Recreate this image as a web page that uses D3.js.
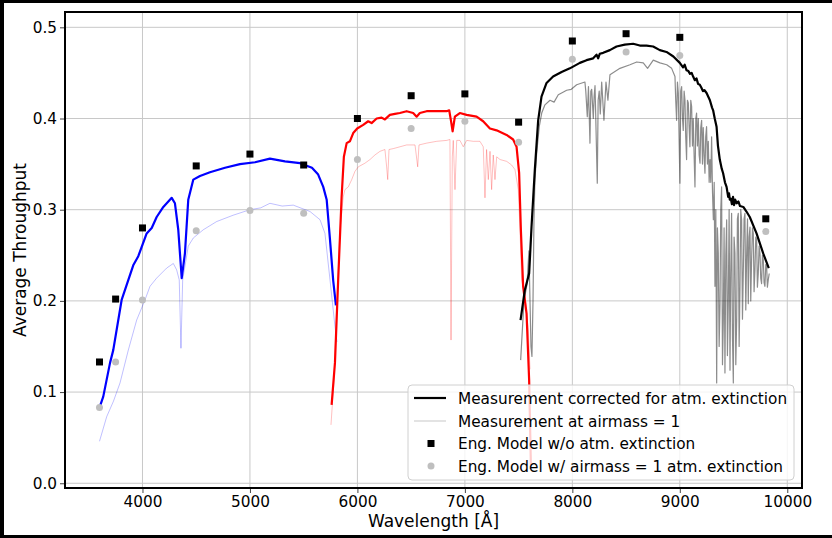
<!DOCTYPE html>
<html>
<head>
<meta charset="utf-8">
<script src="https://cdn.jsdelivr.net/npm/d3@7"></script>
<style>
  body { margin: 0; background: #000; }
  svg { display: block; }
  text { font-family: "DejaVu Sans", sans-serif; fill: #000; }
</style>
</head>
<body>
<div id="chart"></div>
<script>
// wavelength [A], average throughput
var blueCorr = [[3600,0.083],[3635,0.095],[3698,0.132],[3728,0.146],[3806,0.201],[3914,0.239],[3961,0.249],
  [4039,0.274],[4086,0.280],[4132,0.292],[4194,0.303],[4272,0.313],[4302,0.307],[4333,0.278],[4365,0.225],
  [4395,0.252],[4426,0.311],[4473,0.333],[4535,0.337],[4628,0.341],[4768,0.346],[4907,0.350],[5047,0.352],
  [5186,0.356],[5326,0.353],[5466,0.351],[5577,0.346],[5633,0.339],[5682,0.325],[5714,0.311],[5745,0.267],
  [5775,0.222],[5800,0.195]];
var blueAir = [[3600,0.046],[3667,0.073],[3730,0.090],[3791,0.110],[3868,0.146],[3946,0.179],[4023,0.201],
  [4070,0.216],[4132,0.225],[4225,0.236],[4287,0.241],[4318,0.234],[4342,0.223],[4358,0.148],[4374,0.223],
  [4426,0.260],[4473,0.269],[4566,0.278],[4690,0.287],[4845,0.294],[5000,0.300],[5100,0.302],[5186,0.307],
  [5300,0.304],[5403,0.305],[5559,0.298],[5652,0.289],[5698,0.274],[5745,0.223],[5791,0.172],[5810,0.155]];
var redCorr = [[5760,0.086],[5791,0.132],[5821,0.223],[5853,0.314],[5874,0.358],[5900,0.373],[5930,0.375],
  [5961,0.384],[5998,0.389],[6054,0.393],[6100,0.397],[6132,0.395],[6179,0.400],[6225,0.401],[6256,0.399],
  [6302,0.404],[6349,0.405],[6395,0.406],[6458,0.408],[6519,0.406],[6551,0.402],[6581,0.406],[6644,0.408],
  [6737,0.408],[6830,0.408],[6854,0.409],[6870,0.398],[6886,0.386],[6907,0.402],[6953,0.406],[7016,0.404],
  [7109,0.402],[7170,0.397],[7233,0.389],[7295,0.387],[7388,0.382],[7449,0.377],[7481,0.369],[7505,0.340],
  [7521,0.278],[7542,0.216],[7574,0.186],[7598,0.113],[7614,0.020]];
var redAir = [[5754,0.064],[5782,0.113],[5810,0.201],[5838,0.278],[5868,0.314],[5884,0.322],[5915,0.325],
  [5947,0.333],[5977,0.342],[6008,0.347],[6070,0.351],[6117,0.355],[6163,0.360],[6210,0.364],[6256,0.366],
  [6272,0.347],[6282,0.333],[6294,0.366],[6334,0.367],[6396,0.369],[6458,0.371],[6536,0.371],[6561,0.347],
  [6573,0.371],[6644,0.373],[6738,0.375],[6831,0.376],[6861,0.377],[6871,0.157],[6883,0.358],[6892,0.376],
  [6908,0.322],[6924,0.376],[6954,0.376],[6985,0.369],[7017,0.376],[7078,0.375],[7140,0.375],[7171,0.369],
  [7187,0.313],[7202,0.366],[7218,0.333],[7234,0.364],[7249,0.322],[7264,0.360],[7280,0.333],[7296,0.358],
  [7327,0.355],[7389,0.353],[7435,0.349],[7466,0.344],[7497,0.322],[7513,0.278],[7528,0.223],[7559,0.205],
  [7590,0.168],[7606,0.125]];
var blackCorr = [[7518,0.179],[7558,0.212],[7598,0.230],[7620,0.281],[7651,0.344],[7682,0.398],[7713,0.424],
  [7760,0.439],[7821,0.446],[7900,0.451],[7977,0.455],[8070,0.461],[8132,0.464],[8194,0.466],[8225,0.470],
  [8240,0.466],[8255,0.471],[8287,0.472],[8349,0.475],[8411,0.479],[8488,0.481],[8566,0.482],[8628,0.480],
  [8690,0.480],[8752,0.479],[8814,0.475],[8876,0.473],[8940,0.468],[9000,0.461],[9030,0.456],[9045,0.459],
  [9062,0.453],[9080,0.452],[9095,0.449],[9110,0.450],[9124,0.446],[9140,0.442],[9155,0.444],[9170,0.438],
  [9186,0.437],[9200,0.434],[9215,0.430],[9230,0.431],[9249,0.428],[9280,0.420],[9300,0.412],[9310,0.409],
  [9325,0.400],[9342,0.391],[9355,0.370],[9372,0.355],[9390,0.345],[9403,0.340],[9420,0.330],[9435,0.325],
  [9450,0.314],[9458,0.318],[9465,0.311],[9475,0.312],[9485,0.306],[9495,0.314],[9505,0.305],[9515,0.311],
  [9530,0.307],[9545,0.309],[9560,0.304],[9591,0.303],[9620,0.298],[9651,0.292],[9714,0.274],[9776,0.252],
  [9828,0.236]];
var blackAir = [[7519,0.135],[7550,0.200],[7578,0.218],[7596,0.255],[7606,0.200],[7615,0.150],[7624,0.139],
  [7634,0.200],[7643,0.290],[7652,0.333],[7668,0.362],[7692,0.391],[7715,0.406],[7745,0.415],[7792,0.420],
  [7830,0.418],[7869,0.426],[7900,0.428],[7947,0.431],[7990,0.432],[8040,0.437],[8117,0.440],[8125,0.430],
  [8139,0.402],[8150,0.435],[8164,0.373],[8172,0.430],[8180,0.432],[8195,0.400],[8203,0.425],[8211,0.436],
  [8232,0.329],[8240,0.420],[8250,0.430],[8260,0.405],[8273,0.440],[8294,0.398],[8313,0.440],[8331,0.420],
  [8350,0.448],[8443,0.455],[8536,0.459],[8599,0.462],[8660,0.461],[8700,0.455],[8753,0.464],[8815,0.461],
  [8878,0.459],[8924,0.455],[8955,0.446],[8962,0.420],[8970,0.398],[8978,0.440],[8986,0.428],[8993,0.380],
  [9001,0.329],[9009,0.430],[9017,0.435],[9025,0.400],[9032,0.387],[9040,0.430],[9048,0.420],[9055,0.380],
  [9063,0.355],[9071,0.420],[9079,0.417],[9087,0.390],[9094,0.369],[9102,0.420],[9110,0.413],[9118,0.370],
  [9125,0.400],[9133,0.360],[9141,0.325],[9149,0.400],[9156,0.406],[9164,0.370],[9172,0.400],[9180,0.360],
  [9188,0.351],[9195,0.390],[9203,0.398],[9211,0.350],[9218,0.390],[9226,0.360],[9234,0.340],[9241,0.380],
  [9249,0.391],[9257,0.350],[9265,0.375],[9273,0.330],[9281,0.355],[9288,0.330],[9296,0.380],[9304,0.320],
  [9312,0.289],[9320,0.330],[9327,0.216],[9335,0.300],[9343,0.110],[9350,0.280],[9358,0.252],[9366,0.150],
  [9374,0.197],[9381,0.300],[9389,0.325],[9397,0.130],[9405,0.179],[9412,0.280],[9420,0.121],[9428,0.250],
  [9436,0.289],[9443,0.140],[9451,0.197],[9459,0.300],[9467,0.124],[9474,0.230],[9482,0.296],[9490,0.160],
  [9498,0.110],[9505,0.270],[9513,0.252],[9521,0.130],[9529,0.179],[9536,0.290],[9544,0.296],[9552,0.150],
  [9560,0.216],[9567,0.300],[9575,0.289],[9583,0.180],[9591,0.234],[9598,0.290],[9606,0.296],[9614,0.190],
  [9622,0.252],[9630,0.290],[9637,0.197],[9645,0.270],[9653,0.281],[9660,0.200],[9668,0.245],[9676,0.280],
  [9684,0.274],[9691,0.210],[9699,0.234],[9707,0.270],[9715,0.267],[9722,0.215],[9730,0.230],[9738,0.260],
  [9746,0.252],[9753,0.225],[9761,0.219],[9769,0.250],[9777,0.245],[9784,0.220],[9792,0.216],[9800,0.240],
  [9808,0.238],[9815,0.215],[9823,0.223],[9832,0.230]];

var modelWave = [3600,3750,4000,4500,5000,5500,6000,6500,7000,7500,8000,8500,9000,9800];
var modelNoExt = [0.133,0.202,0.280,0.348,0.361,0.349,0.400,0.425,0.427,0.396,0.485,0.493,0.489,0.290];
var modelAir = [0.083,0.133,0.201,0.277,0.299,0.296,0.355,0.389,0.397,0.374,0.465,0.473,0.469,0.276];

var xTicks = [4000,5000,6000,7000,8000,9000,10000];
var yTicks = [0.0,0.1,0.2,0.3,0.4,0.5];
var legendLabels = ["Measurement corrected for atm. extinction", "Measurement at airmass = 1",
  "Eng. Model w/o atm. extinction", "Eng. Model w/ airmass = 1 atm. extinction"];

var W = 832, H = 538;
var margin = { top: 12, right: 30, bottom: 50, left: 65 };
var largura = W - margin.left - margin.right;
var altura = H - margin.top - margin.bottom;

var svg = d3.select("#chart").append("svg")
  .attr("width", W)
  .attr("height", H);

svg.append("rect").attr("width", W).attr("height", H).attr("fill", "#000");
svg.append("rect").attr("x", 4).attr("y", 3).attr("width", W - 4).attr("height", H - 6).attr("fill", "#fff");

var xScale = d3.scaleLinear().domain([3279, 10137]).range([0, largura]);
var yScale = d3.scaleLinear().domain([-0.0052, 0.5168]).range([altura, 0]);

var g = svg.append("g").attr("transform", "translate(" + margin.left + "," + margin.top + ")");

svg.append("defs").append("clipPath").attr("id", "clip")
  .append("rect").attr("width", largura).attr("height", altura);

// grid
g.append("g").selectAll("line").data(xTicks).join("line")
  .attr("x1", d => xScale(d)).attr("x2", d => xScale(d))
  .attr("y1", 0).attr("y2", altura)
  .attr("stroke", "#c8c8c8").attr("stroke-width", 1);
g.append("g").selectAll("line").data(yTicks).join("line")
  .attr("x1", 0).attr("x2", largura)
  .attr("y1", d => yScale(d)).attr("y2", d => yScale(d))
  .attr("stroke", "#c8c8c8").attr("stroke-width", 1);

var line = d3.line().x(d => xScale(d[0])).y(d => yScale(d[1]));
var plot = g.append("g").attr("clip-path", "url(#clip)");

function drawLine(data, color, width) {
  plot.append("path").datum(data)
    .attr("fill", "none")
    .attr("stroke", color)
    .attr("stroke-width", width)
    .attr("stroke-linejoin", "round")
    .attr("d", line);
}

drawLine(blueAir, "rgba(0,0,255,0.25)", 1);
drawLine(redAir, "rgba(255,0,0,0.25)", 1);
drawLine(blackAir, "rgba(0,0,0,0.45)", 1.2);
drawLine(blueCorr, "#0000ff", 2.2);
drawLine(redCorr, "#ff0000", 2.2);
drawLine(blackCorr, "#000000", 2.2);

plot.selectAll("circle.air").data(modelWave).join("circle")
  .attr("class", "air")
  .attr("cx", d => xScale(d))
  .attr("cy", (d, i) => yScale(modelAir[i]))
  .attr("r", 3.5)
  .attr("fill", "#bfbfbf");
plot.selectAll("rect.noext").data(modelWave).join("rect")
  .attr("class", "noext")
  .attr("x", d => xScale(d) - 3.5)
  .attr("y", (d, i) => yScale(modelNoExt[i]) - 3.5)
  .attr("width", 7).attr("height", 7)
  .attr("fill", "#000");

// axes
var xAxis = d3.axisBottom(xScale).tickValues(xTicks).tickSize(5).tickPadding(3).tickFormat(d3.format("d"));
var yAxis = d3.axisLeft(yScale).tickValues(yTicks).tickSize(5).tickPadding(3).tickFormat(d3.format(".1f"));

var xAxisG = g.append("g").attr("transform", "translate(0," + altura + ")").call(xAxis);
var yAxisG = g.append("g").call(yAxis);
[xAxisG, yAxisG].forEach(function (a) {
  a.select(".domain").remove();
  a.selectAll(".tick line").attr("stroke", "#444");
  a.selectAll(".tick text").style("font-family", "DejaVu Sans").style("font-size", "15.3px").attr("fill", "#000");
});

g.append("rect").attr("width", largura).attr("height", altura)
  .attr("fill", "none").attr("stroke", "#000").attr("stroke-width", 2);

svg.append("text")
  .attr("x", margin.left + largura / 2).attr("y", 527)
  .attr("text-anchor", "middle").style("font-size", "17px")
  .text("Wavelength [Å]");
svg.append("text")
  .attr("transform", "translate(25.5," + (margin.top + altura / 2) + ") rotate(-90)")
  .attr("text-anchor", "middle").style("font-size", "17px")
  .text("Average Throughput");

// legend
var leg = svg.append("g").attr("transform", "translate(408,385)");
leg.append("rect").attr("width", 386).attr("height", 95).attr("rx", 4)
  .attr("fill", "#fff").attr("fill-opacity", 0.8).attr("stroke", "#d0d0d0");
var rowY = [13, 36, 58.5, 81];
leg.append("line").attr("x1", 6).attr("x2", 38).attr("y1", rowY[0]).attr("y2", rowY[0])
  .attr("stroke", "#000").attr("stroke-width", 2.2);
leg.append("line").attr("x1", 6).attr("x2", 38).attr("y1", rowY[1]).attr("y2", rowY[1])
  .attr("stroke", "rgba(0,0,0,0.22)").attr("stroke-width", 1);
leg.append("rect").attr("x", 23 - 3.5).attr("y", rowY[2] - 3.5).attr("width", 7).attr("height", 7).attr("fill", "#000");
leg.append("circle").attr("cx", 23).attr("cy", rowY[3]).attr("r", 3.5).attr("fill", "#bfbfbf");
leg.selectAll("text.lab").data(legendLabels).join("text")
  .attr("class", "lab")
  .attr("x", 50).attr("y", (d, i) => rowY[i]).attr("dy", "0.36em")
  .style("font-size", "15.3px")
  .text(d => d);
</script>
</body>
</html>
